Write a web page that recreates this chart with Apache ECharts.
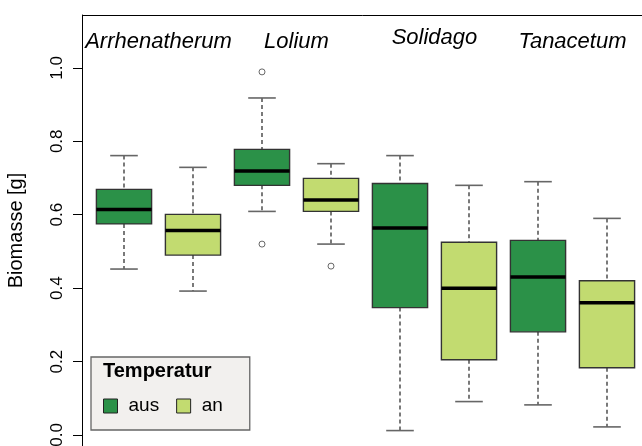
<!DOCTYPE html>
<html>
<head>
<meta charset="utf-8">
<script src="https://cdn.jsdelivr.net/npm/echarts@6/dist/echarts.min.js"></script>
<style>
  html, body { margin: 0; padding: 0; background: #fff; }
  #main { width: 642px; height: 446px; }
</style>
</head>
<body>
<div id="main"></div>
<script>
const species = ['Arrhenatherum', 'Lolium', 'Solidago', 'Tanacetum'];
const temps = ['aus', 'an'];
const yTicks = [0, 0.2, 0.4, 0.6, 0.8, 1.0];

// five-number summaries per species
const ausLow  = [0.452, 0.609, 0.012, 0.082];
const ausQ1   = [0.575, 0.680, 0.347, 0.281];
const ausMed  = [0.614, 0.719, 0.564, 0.430];
const ausQ3   = [0.669, 0.778, 0.685, 0.530];
const ausHigh = [0.761, 0.918, 0.761, 0.690];

const anLow  = [0.392, 0.520, 0.091, 0.022];
const anQ1   = [0.490, 0.609, 0.205, 0.183];
const anMed  = [0.557, 0.640, 0.400, 0.360];
const anQ3   = [0.601, 0.699, 0.525, 0.420];
const anHigh = [0.729, 0.739, 0.680, 0.590];

// outliers: [species index, value]
const ausOutliers = [[1, 0.989], [1, 0.520]];
const anOutliers = [[1, 0.460]];

const colAus = '#2b9148';
const colAn = '#c2db70';
const font = 'Liberation Sans, Arial, sans-serif';

// 8 box positions: species x temperatur
const boxCats = [];
species.forEach(s => temps.forEach(t => boxCats.push(s + ' ' + t)));

function rows(low, q1, med, q3, high, shift) {
    return species.map((s, i) => [i * 2 + shift, low[i], q1[i], med[i], q3[i], high[i]]);
}

function renderBox(params, api) {
    const x = api.value(0);
    const lo = api.coord([x, api.value(1)]);
    const q1 = api.coord([x, api.value(2)]);
    const md = api.coord([x, api.value(3)]);
    const q3 = api.coord([x, api.value(4)]);
    const hi = api.coord([x, api.value(5)]);
    const band = api.size([1, 0])[0];
    const hw = band * 0.4;
    const cw = band * 0.2;
    const cx = lo[0];
    const fill = api.visual('color');
    const dash = { stroke: '#222', lineWidth: 1.2, lineDash: [4, 3] };
    const cap = { stroke: '#666', lineWidth: 1.6 };
    return {
        type: 'group',
        children: [
            { type: 'line', shape: { x1: cx, y1: hi[1], x2: cx, y2: q3[1] }, style: dash },
            { type: 'line', shape: { x1: cx, y1: q1[1], x2: cx, y2: lo[1] }, style: dash },
            { type: 'line', shape: { x1: cx - cw, y1: hi[1], x2: cx + cw, y2: hi[1] }, style: cap },
            { type: 'line', shape: { x1: cx - cw, y1: lo[1], x2: cx + cw, y2: lo[1] }, style: cap },
            { type: 'rect', shape: { x: cx - hw, y: q3[1], width: hw * 2, height: q1[1] - q3[1] },
              style: { fill: fill, stroke: '#333', lineWidth: 1.4 } },
            { type: 'line', shape: { x1: cx - hw, y1: md[1], x2: cx + hw, y2: md[1] },
              style: { stroke: '#000', lineWidth: 3.5 } }
        ]
    };
}

var chart = echarts.init(document.getElementById('main'));

var option = {
    animation: false,
    backgroundColor: '#fff',
    textStyle: { fontFamily: font },
    title: {
        text: 'Temperatur',
        left: 103,
        top: 361,
        padding: 0,
        textStyle: { fontSize: 20, fontWeight: 'bold', color: '#000', fontFamily: font }
    },
    legend: {
        left: 91,
        top: 357,
        orient: 'horizontal',
        icon: 'rect',
        itemWidth: 14,
        itemHeight: 14,
        itemGap: 17,
        padding: [39, 27, 14, 12],
        backgroundColor: '#f2f0ee',
        borderColor: '#666',
        borderWidth: 1.3,
        textStyle: { fontSize: 19, color: '#000', fontFamily: font, lineHeight: 20, padding: [0, 0, 0, 6] },
        data: [
            { name: 'aus', itemStyle: { borderColor: '#222', borderWidth: 1 } },
            { name: 'an', itemStyle: { borderColor: '#222', borderWidth: 1 } }
        ]
    },
    grid: {
        left: 89.5,
        right: 0.5,
        top: 15,
        bottom: 0,
        outerBoundsMode: 'none'
    },
    xAxis: [
        {
            type: 'category',
            data: boxCats,
            position: 'bottom',
            axisLine: { show: false },
            axisTick: { show: false },
            axisLabel: { show: false },
            splitLine: { show: false }
        },
        {
            type: 'category',
            data: species,
            position: 'top',
            axisLine: { show: false },
            axisTick: { show: false },
            splitLine: { show: false },
            axisLabel: {
                inside: true,
                margin: 27,
                verticalAlign: 'middle',
                color: '#000',
                formatter: v => v === 'Solidago' ? '{r|' + v + '}' : '{n|' + v + '}',
                rich: {
                    n: { fontSize: 22, fontStyle: 'italic', fontFamily: font, color: '#000' },
                    r: { fontSize: 22, fontStyle: 'italic', fontFamily: font, color: '#000', padding: [0, 0, 8, 0] }
                }
            }
        }
    ],
    yAxis: {
        type: 'value',
        min: -0.03,
        max: 1.144,
        offset: 7.5,
        axisLine: { show: true, lineStyle: { color: '#000', width: 1 } },
        axisTick: { show: true, length: 9, customValues: yTicks, lineStyle: { color: '#000' } },
        axisLabel: {
            customValues: yTicks,
            rotate: 90,
            margin: 16,
            fontSize: 17,
            color: '#000',
            formatter: v => v.toFixed(1)
        },
        splitLine: { show: false },
        name: 'Biomasse [g]',
        nameLocation: 'middle',
        nameGap: 56,
        nameTextStyle: { fontSize: 20, color: '#000', fontFamily: font }
    },
    graphic: [
        {
            type: 'rect',
            z: -1,
            shape: { x: 82.5, y: 15.5, width: 600, height: 500 },
            style: { fill: 'none', stroke: '#000', lineWidth: 1 }
        }
    ],
    series: [
        {
            name: 'aus',
            type: 'custom',
            renderItem: renderBox,
            itemStyle: { color: colAus },
            encode: { x: 0, y: [1, 2, 3, 4, 5] },
            data: rows(ausLow, ausQ1, ausMed, ausQ3, ausHigh, 0)
        },
        {
            name: 'an',
            type: 'custom',
            renderItem: renderBox,
            itemStyle: { color: colAn },
            encode: { x: 0, y: [1, 2, 3, 4, 5] },
            data: rows(anLow, anQ1, anMed, anQ3, anHigh, 1)
        },
        {
            name: 'outliers',
            type: 'scatter',
            symbol: 'circle',
            symbolSize: 6,
            itemStyle: { color: '#fff', borderColor: '#444', borderWidth: 1 },
            data: ausOutliers.map(o => [o[0] * 2, o[1]]).concat(anOutliers.map(o => [o[0] * 2 + 1, o[1]]))
        }
    ]
};

chart.setOption(option);
</script>
</body>
</html>
